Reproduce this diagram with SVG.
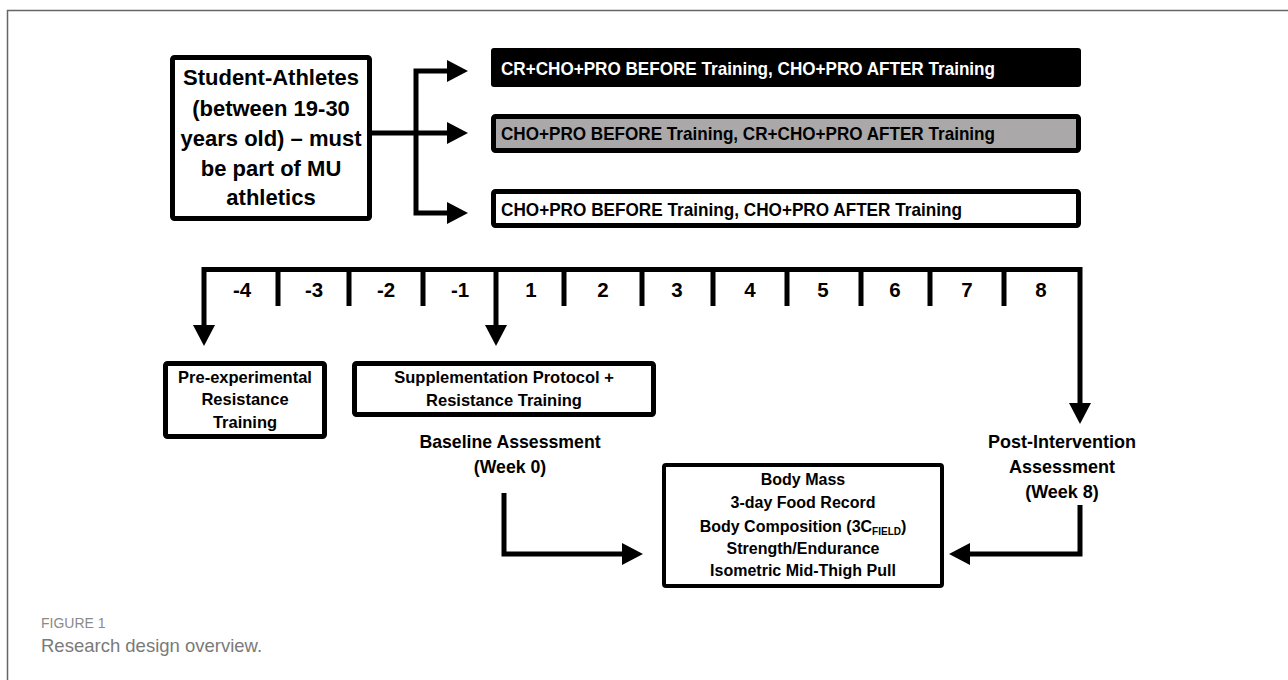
<svg xmlns="http://www.w3.org/2000/svg" width="1288" height="680" viewBox="0 0 1288 680">
<style>
.t{font-family:"Liberation Sans",Arial,sans-serif;font-weight:bold;fill:#000;text-anchor:middle}
.bar{font-family:"Liberation Sans",Arial,sans-serif;font-weight:bold;font-size:18.5px}
.box{fill:#fff;stroke:#000;stroke-width:5}
.ln{fill:none;stroke:#000;stroke-width:5;stroke-linejoin:miter}
.cap{font-family:"Liberation Sans",Arial,sans-serif}
</style>
<defs>
<marker id="ah" markerUnits="userSpaceOnUse" markerWidth="21" markerHeight="22" refX="0" refY="11" orient="auto-start-reverse" viewBox="0 0 21 22">
<path d="M0,0 L21,11 L0,22 z" fill="#000"/>
</marker>
</defs>
<rect width="1288" height="680" fill="#fff"/>
<path d="M7.5,680 V10.5 H1288" fill="none" stroke="#666" stroke-width="1.5"/>

<g id="student">
<rect class="box" x="172.5" y="57.5" width="197" height="161" rx="2"/>
<text class="t" font-size="22" x="271"><tspan x="271" y="85">Student-Athletes</tspan><tspan x="271" y="116">(between 19-30</tspan><tspan x="271" y="146">years old) – must</tspan><tspan x="271" y="176">be part of MU</tspan><tspan x="271" y="205">athletics</tspan></text>
</g>

<g id="group1">
<rect x="491" y="48" width="590" height="39" rx="3" fill="#000"/>
<text class="bar" x="501" y="75" fill="#fff" textLength="494" lengthAdjust="spacingAndGlyphs">CR+CHO+PRO BEFORE Training, CHO+PRO AFTER Training</text>
</g>
<g id="group2">
<rect x="493.5" y="116.5" width="585" height="34" rx="2" fill="#aaa8a8" stroke="#000" stroke-width="5"/>
<text class="bar" x="501" y="140" fill="#000" textLength="494" lengthAdjust="spacingAndGlyphs">CHO+PRO BEFORE Training, CR+CHO+PRO AFTER Training</text>
</g>
<g id="group3">
<rect class="box" x="493.5" y="191.5" width="585" height="34" rx="2"/>
<text class="bar" x="501" y="216" fill="#000" textLength="461" lengthAdjust="spacingAndGlyphs">CHO+PRO BEFORE Training, CHO+PRO AFTER Training</text>
</g>

<g id="timeline">
<text class="t" font-size="20.5" y="297"><tspan x="242">-4</tspan><tspan x="314">-3</tspan><tspan x="386">-2</tspan><tspan x="460">-1</tspan><tspan x="531">1</tspan><tspan x="603">2</tspan><tspan x="677">3</tspan><tspan x="750">4</tspan><tspan x="823">5</tspan><tspan x="895">6</tspan><tspan x="967">7</tspan><tspan x="1041">8</tspan></text>
</g>

<g id="pre">
<rect class="box" x="165.5" y="363.5" width="159" height="73" rx="2"/>
<text class="t" font-size="16.5" x="245"><tspan x="245" y="383">Pre-experimental</tspan><tspan x="245" y="405">Resistance</tspan><tspan x="245" y="428">Training</tspan></text>
</g>

<g id="supp">
<rect class="box" x="354.5" y="363.5" width="299" height="51" rx="2"/>
<text class="t" font-size="16.5" x="504"><tspan x="504" y="383">Supplementation Protocol +</tspan><tspan x="504" y="406">Resistance Training</tspan></text>
</g>

<g id="baseline">
<text class="t" font-size="17.7" x="510"><tspan x="510" y="448">Baseline Assessment</tspan><tspan x="510" y="473">(Week 0)</tspan></text>
</g>

<g id="post">
<text class="t" font-size="18" x="1062"><tspan x="1062" y="448">Post-Intervention</tspan><tspan x="1062" y="473">Assessment</tspan><tspan x="1062" y="498">(Week 8)</tspan></text>
</g>

<g id="measures">
<rect x="664" y="465" width="278" height="121" rx="2" fill="#fff" stroke="#000" stroke-width="4"/>
<text class="t" font-size="16" x="803"><tspan x="803" y="485">Body Mass</tspan><tspan x="803" y="508">3-day Food Record</tspan><tspan x="803" y="532">Body Composition (3C<tspan font-size="10" dy="3">FIELD</tspan><tspan dy="-3">)</tspan></tspan><tspan x="803" y="554">Strength/Endurance</tspan><tspan x="803" y="576">Isometric Mid-Thigh Pull</tspan></text>
</g>

<g id="connectors">
<path class="ln" d="M372,133 H447" marker-end="url(#ah)"/>
<path class="ln" d="M416,133 V71 H447" marker-end="url(#ah)"/>
<path class="ln" d="M416,133 V213 H447" marker-end="url(#ah)"/>
<path class="ln" d="M204,325 V269.5 H1080 V403" marker-start="url(#ah)" marker-end="url(#ah)"/>
<path class="ln" d="M496,269.5 V325" marker-end="url(#ah)"/>
<path class="ln" d="M278,269.5 V306 M349,269.5 V306 M423,269.5 V306 M564,269.5 V306 M642,269.5 V306 M713,269.5 V306 M787,269.5 V306 M861,269.5 V306 M930,269.5 V306 M1004,269.5 V306"/>
<path class="ln" d="M504,493 V554 H622" marker-end="url(#ah)"/>
<path class="ln" d="M1080,505 V554 H970" marker-end="url(#ah)"/>
</g>

<g id="caption">
<text class="cap" x="41" y="628" font-size="14" fill="#8a8a8a">FIGURE 1</text>
<text class="cap" x="41" y="652" font-size="18.5" fill="#7a7a7a">Research design overview.</text>
</g>
</svg>
